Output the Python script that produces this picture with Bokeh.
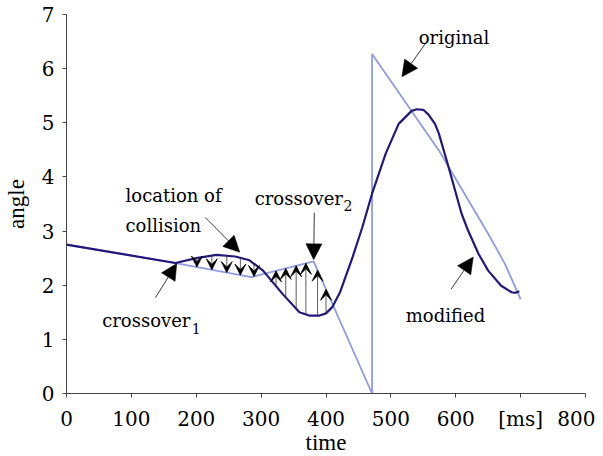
import numpy as np
from bokeh.plotting import figure
from bokeh.models import Range1d, FixedTicker, Arrow, VeeHead, NormalHead, ColumnDataSource
from bokeh.core.properties import value
from bokeh.embed import file_html
from bokeh.resources import INLINE

# ---------------- data ----------------
orig_t = [0, 168, 285, 381, 471, 471, 574, 619, 650, 676, 700]
orig_y = [2.75, 2.41, 2.15, 2.44, 0.0, 6.27, 4.49, 3.58, 2.95, 2.39, 1.74]

mod_t = [0, 168, 200, 231, 260, 282, 303, 333, 359, 374, 390, 400, 410, 422, 441,
         456, 471, 492, 512, 532, 540, 550, 558, 568, 574, 589, 609, 619, 635, 650,
         670, 686, 692, 698]
mod_y = [2.75, 2.41, 2.50, 2.56, 2.53, 2.46, 2.27, 1.84, 1.50, 1.44, 1.44, 1.48, 1.60, 1.88, 2.52,
         3.07, 3.69, 4.43, 4.98, 5.22, 5.25, 5.24, 5.15, 4.98, 4.80, 4.18, 3.32, 3.01, 2.58, 2.27,
         1.99, 1.87, 1.86, 1.89]

down_arrow_t = [201, 224, 247, 268, 289]
up_arrow_t = [323, 338, 354, 369, 387, 400]

x_ticks = [0, 100, 200, 300, 400, 500, 600, 700, 800]
x_tick_labels = ["0", "100", "200", "300", "400", "500", "600", "[ms]", "800"]
y_ticks = [0, 1, 2, 3, 4, 5, 6, 7]

# annotation arrows (tail x, tail y, tip x, tip y)
ann_x0 = [137, 214, 382, 553, 593]
ann_y0 = [1.77, 3.25, 3.34, 6.46, 1.93]
ann_x1 = [170, 267, 381, 517, 627]
ann_y1 = [2.40, 2.61, 2.47, 5.85, 2.52]

# annotation texts (left x, baseline y)
txt = ["location of", "collision", "crossover", "crossover", "original", "modified"]
txt_x = [91, 91, 55, 290, 543, 523]
txt_y = [3.66, 3.10, 1.345, 3.60, 6.58, 1.44]
sub_txt = ["1", "2"]
sub_x = [193, 427]
sub_y = [1.20, 3.47]

AXIS_FONT = "Liberation Serif"
TEXT_FONT = "DejaVu Serif"
ORIG_COLOR = "#8f9de0"
MOD_COLOR = "#22187d"

# ---------------- figure ----------------
p = figure(frame_width=519, frame_height=379, x_range=Range1d(0, 800), y_range=Range1d(0, 7),
           output_backend="svg", toolbar_location=None,
           min_border_left=65, min_border_right=10, min_border_top=14, min_border_bottom=63)
p.outline_line_color = None
p.grid.grid_line_color = None

for ax in (p.xaxis[0], p.yaxis[0]):
    ax.axis_line_color = "#444444"
    ax.major_tick_line_color = "#444444"
    ax.major_tick_out = 4
    ax.major_tick_in = 0
    ax.minor_tick_line_color = None
    ax.major_label_text_font = TEXT_FONT
    ax.major_label_text_font_size = "20px"
    ax.major_label_text_color = "black"
    ax.axis_label_text_font = AXIS_FONT
    ax.axis_label_text_font_size = "23px"
    ax.axis_label_text_font_style = "normal"
    ax.axis_label_text_color = "black"

p.xaxis.ticker = FixedTicker(ticks=x_ticks)
p.xaxis.major_label_overrides = {t: l for t, l in zip(x_ticks, x_tick_labels)}
p.yaxis.ticker = FixedTicker(ticks=y_ticks)
p.xaxis.axis_label = "time"
p.yaxis.axis_label = "angle"
p.xaxis.major_label_standoff = 9
p.yaxis.major_label_standoff = 8
p.xaxis.axis_label_standoff = -4
p.yaxis.axis_label_standoff = 10

# curves
p.line(orig_t, orig_y, line_color=ORIG_COLOR, line_width=1.8)
p.line(mod_t, mod_y, line_color=MOD_COLOR, line_width=2.2)

# small arrows between the curves
def on_curve(t, xs, ys):
    return list(np.interp(t, xs, ys))

orig_seg_t = orig_t[:5]
orig_seg_y = orig_y[:5]
d_src = ColumnDataSource(dict(x=down_arrow_t,
                              y0=on_curve(down_arrow_t, mod_t, mod_y),
                              y1=on_curve(down_arrow_t, orig_seg_t, orig_seg_y)))
u_src = ColumnDataSource(dict(x=up_arrow_t,
                              y0=on_curve(up_arrow_t, mod_t, mod_y),
                              y1=on_curve(up_arrow_t, orig_seg_t, orig_seg_y)))
for src in (d_src, u_src):
    p.add_layout(Arrow(end=VeeHead(size=11, fill_color="black", line_color="black", line_width=0.8),
                       x_start="x", y_start="y0", x_end="x", y_end="y1", source=src,
                       line_color="#333333", line_width=0.8))

# annotation arrows
a_src = ColumnDataSource(dict(x0=ann_x0, y0=ann_y0, x1=ann_x1, y1=ann_y1))
p.add_layout(Arrow(end=NormalHead(size=16, fill_color="black", line_color="black", line_width=0.5),
                   x_start="x0", y_start="y0", x_end="x1", y_end="y1", source=a_src,
                   line_color="#222222", line_width=0.9))

# annotation texts
p.text(x=txt_x, y=txt_y, text=txt, text_font=value(TEXT_FONT), text_font_size=value("18px"),
       text_color="black", text_align="left", text_baseline="alphabetic")
p.text(x=sub_x, y=sub_y, text=sub_txt, text_font=value(TEXT_FONT), text_font_size=value("14px"),
       text_color="black", text_align="left", text_baseline="alphabetic")

open("out.html", "w").write(file_html(p, INLINE))
